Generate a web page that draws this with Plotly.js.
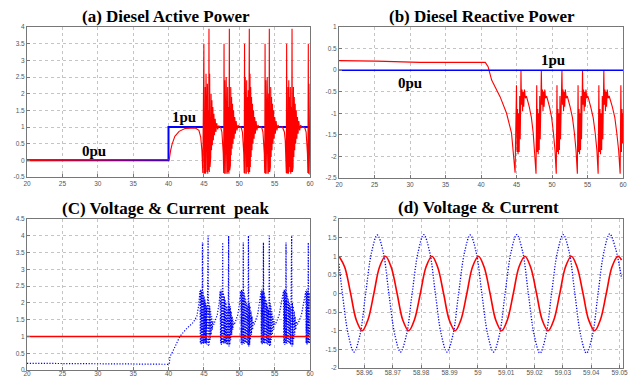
<!DOCTYPE html>
<html><head><meta charset="utf-8">
<script src="https://cdn.plot.ly/plotly-3.0.1.min.js"></script>
<style>html,body{margin:0;padding:0;background:#fff}#chart{width:630px;height:378px}</style>
</head><body><div id="chart"></div>
<script>
// ---------- (a) Diesel Active Power ----------
const aRefTime = [20, 40, 40, 60];
const aRefPower = [0, 0, 1, 1];
const aTime = [20,40,40.1,40.3,40.5,40.9,41.5,42.4,43.8,44.3,44.55,44.72,44.85,
45.0,45.05,45.1,45.15,45.2,45.25,45.3,45.35,45.4,45.45,45.5,45.55,45.62,45.67,45.72,45.77,45.82,45.87,45.92,45.97,46.02,46.08,46.14,46.2,46.27,46.34,46.42,46.5,46.6,46.7,46.82,46.95,47.1,47.3,
47.4,47.55,47.66,47.74,47.8,
47.85,47.9,47.95,48.0,48.05,48.1,48.15,48.2,48.25,48.3,48.36,48.42,48.48,48.54,48.6,48.65,48.7,48.75,48.8,48.86,48.92,48.98,49.05,49.12,49.2,49.28,49.37,49.46,49.56,49.68,49.82,50.0,50.2,
50.3,50.45,50.56,50.64,50.7,
50.75,50.8,50.85,50.9,50.95,51.0,51.05,51.1,51.16,51.22,51.28,51.33,51.37,51.42,51.47,51.52,51.57,51.62,51.68,51.74,51.8,51.87,51.94,52.02,52.1,52.19,52.28,52.38,52.5,52.64,52.8,53.1,
53.2,53.35,53.46,53.54,53.6,
53.65,53.7,53.75,53.8,53.85,53.9,53.95,54.0,54.05,54.1,54.15,54.2,54.25,54.3,54.35,54.4,54.45,54.51,54.57,54.63,54.7,54.77,54.85,54.93,55.02,55.11,55.21,55.33,55.47,55.65,56.1,
56.2,56.38,56.5,56.6,56.65,
56.7,56.75,56.8,56.85,56.9,56.95,57.0,57.05,57.1,57.16,57.22,57.28,57.34,57.4,57.46,57.51,57.56,57.61,57.66,57.72,57.78,57.84,57.91,57.98,58.06,58.14,58.23,58.32,58.42,58.54,58.68,58.85,59.1,
59.3,59.45,59.56,59.64,59.7,
59.76,59.8,59.85,59.9,59.95,60.0];
const aPower = [0,0,0.02,0.3,0.48,0.72,0.87,0.96,0.97,0.9,0.7,0.3,-0.38,
3.5,-0.4,2.5,-0.3,2.2,-0.4,2.6,-0.2,1.9,-0.35,2.3,-0.4,1.5,-0.3,3.95,-0.35,2.6,-0.2,2.2,0.1,2.0,0.3,1.8,0.45,1.6,0.6,1.4,0.75,1.25,0.85,1.12,0.93,1.04,0.99,
0.97,0.85,0.6,0.2,-0.38,
3.5,-0.4,2.4,-0.3,2.1,-0.4,2.5,-0.25,1.8,-0.4,2.2,-0.35,1.6,-0.4,3.95,-0.3,2.6,-0.15,2.2,0.15,1.9,0.35,1.7,0.5,1.5,0.65,1.3,0.8,1.18,0.9,1.06,0.98,1.0,
0.96,0.85,0.6,0.2,-0.38,
3.5,-0.4,2.5,-0.3,2.2,-0.4,2.4,-0.2,1.9,-0.35,2.1,-0.4,1.5,3.95,-0.35,2.6,-0.2,2.2,0.1,1.9,0.3,1.7,0.5,1.5,0.65,1.3,0.8,1.18,0.9,1.06,0.98,1.0,
0.96,0.85,0.6,0.2,-0.38,
3.5,-0.4,2.4,-0.3,2.2,-0.4,2.5,-0.25,1.8,-0.4,2.0,-0.35,3.95,-0.35,2.6,-0.2,2.2,0.1,1.9,0.3,1.7,0.5,1.5,0.65,1.3,0.8,1.18,0.9,1.06,0.98,1.0,
0.96,0.85,0.6,0.2,-0.38,
3.5,-0.4,2.5,-0.3,2.2,-0.4,2.4,-0.2,1.9,-0.35,2.2,-0.4,1.6,-0.35,3.95,-0.35,2.6,-0.2,2.2,0.1,1.9,0.3,1.7,0.5,1.5,0.65,1.3,0.8,1.18,0.9,1.06,0.98,1.0,
0.96,0.85,0.6,0.2,-0.38,
3.5,-0.4,2.3,-0.3,1.5,-0.43];

// ---------- (b) Diesel Reactive Power ----------
const bRefTime = [20, 60];
const bRefPower = [0, 0];
const bTime = [20,25.3,31.4,40.6,41.0,41.5,42.7,43.6,44.3,44.6,44.8,
45.0,45.08,45.15,45.22,45.3,45.38,45.45,45.52,45.58,45.63,45.7,45.78,45.86,45.94,46.02,46.12,46.25,46.4,46.8,47.1,47.35,47.55,47.75,
47.85,47.92,47.99,48.06,48.13,48.2,48.27,48.34,48.42,48.5,48.57,48.65,48.73,48.81,48.89,48.98,49.1,49.25,49.65,49.95,50.2,50.42,50.6,
50.7,50.77,50.84,50.91,50.98,51.05,51.12,51.2,51.3,51.4,51.47,51.55,51.63,51.71,51.79,51.88,52.0,52.15,52.55,52.88,53.15,53.38,53.57,
53.67,53.74,53.81,53.88,53.95,54.02,54.09,54.16,54.23,54.3,54.37,54.45,54.53,54.61,54.69,54.78,54.9,55.05,55.45,55.8,56.08,56.32,56.5,
56.6,56.68,56.76,56.84,56.92,57.0,57.08,57.16,57.24,57.3,57.37,57.45,57.53,57.61,57.69,57.78,57.9,58.05,58.5,58.85,59.12,59.38,59.6,
59.7,59.78,59.86,59.93,60.0];
const bPower = [0.22,0.21,0.18,0.18,0.08,-0.23,-0.62,-1.0,-1.46,-1.92,-2.38,
-0.35,-1.9,-0.9,-1.95,-1.0,-1.9,-0.6,-1.6,-0.9,0.0,-0.8,-0.45,-0.95,-0.5,-0.85,-0.45,-0.65,-0.6,-0.85,-1.1,-1.45,-1.85,-2.4,
-0.35,-1.9,-0.9,-1.95,-1.0,-1.85,-0.6,-1.6,-0.9,0.0,-0.8,-0.45,-0.95,-0.5,-0.85,-0.45,-0.65,-0.6,-0.85,-1.1,-1.45,-1.85,-2.4,
-0.35,-1.9,-0.9,-1.95,-1.0,-1.85,-0.6,-1.6,-0.9,0.0,-0.8,-0.45,-0.95,-0.5,-0.85,-0.45,-0.65,-0.6,-0.85,-1.1,-1.45,-1.85,-2.4,
-0.35,-1.9,-0.9,-1.95,-1.0,-1.85,-0.6,-1.6,-0.9,0.0,-0.8,-0.45,-0.95,-0.5,-0.85,-0.45,-0.65,-0.6,-0.85,-1.1,-1.45,-1.85,-2.4,
-0.35,-1.9,-0.9,-1.95,-1.0,-1.85,-0.6,-1.6,-0.9,0.0,-0.8,-0.45,-0.95,-0.5,-0.85,-0.45,-0.65,-0.6,-0.85,-1.1,-1.45,-1.85,-2.4,
-0.35,-1.9,-0.9,-1.7,-1.0];

// ---------- (C) Voltage & Current peak ----------
const cRefTime = [20, 60];
const cRefPeak = [1, 1];
const cTime = [20,27,27.1,34.5,40.1,40.2,40.6,41.0,41.6,42.5,43.5,44.0,44.25,44.45,
44.5,44.56,44.62,44.68,44.74,44.8,44.85,44.91,44.97,45.03,45.09,45.15,45.21,45.27,45.33,45.39,45.45,45.51,45.6,45.65,45.71,45.77,45.83,45.89,45.96,46.03,46.1,46.18,46.27,46.4,46.6,46.9,47.15,47.31,
47.36,47.42,47.48,47.54,47.6,47.66,47.71,47.77,47.83,47.89,47.95,48.01,48.07,48.13,48.19,48.25,48.31,48.37,48.43,48.5,48.55,48.61,48.67,48.73,48.79,48.86,48.93,49.0,49.08,49.17,49.3,49.5,49.8,50.05,50.22,
50.27,50.33,50.39,50.45,50.51,50.57,50.62,50.68,50.74,50.8,50.86,50.92,50.98,51.04,51.1,51.16,51.22,51.3,51.35,51.41,51.47,51.53,51.59,51.66,51.73,51.8,51.88,51.97,52.1,52.3,52.6,52.85,53.07,
53.12,53.18,53.24,53.3,53.36,53.42,53.47,53.53,53.59,53.65,53.71,53.77,53.83,53.89,53.95,54.01,54.07,54.13,54.19,54.25,54.3,54.36,54.42,54.48,54.54,54.61,54.68,54.75,54.83,54.92,55.05,55.3,55.65,55.95,56.26,
56.31,56.37,56.43,56.49,56.55,56.61,56.66,56.72,56.78,56.84,56.9,56.96,57.02,57.08,57.14,57.2,57.26,57.32,57.41,57.46,57.52,57.58,57.64,57.7,57.77,57.84,57.91,57.99,58.08,58.2,58.45,58.8,59.1,59.41,
59.46,59.52,59.58,59.64,59.7,59.76,59.81,59.87,59.93,60.0];
const cPeak = [0.2,0.2,0.19,0.18,0.17,0.4,0.55,0.72,1.0,1.22,1.42,1.6,1.9,2.35,
0.8,2.4,0.75,2.35,0.8,3.8,0.8,2.3,0.78,2.2,0.82,2.1,0.8,2.0,0.78,1.9,0.75,1.8,4.0,0.7,2.0,0.75,1.9,0.9,1.75,1.05,1.6,1.2,1.45,1.35,1.45,1.65,2.0,2.35,
0.8,2.4,0.75,2.35,0.8,3.8,0.8,2.3,0.78,2.2,0.82,2.1,0.8,2.0,0.78,1.9,0.75,1.8,0.8,4.0,0.7,2.0,0.75,1.9,0.9,1.75,1.05,1.6,1.2,1.45,1.35,1.45,1.65,2.0,2.35,
0.8,2.4,0.75,2.35,0.8,3.8,0.8,2.3,0.78,2.2,0.82,2.1,0.8,2.0,0.78,1.9,0.75,4.0,0.7,2.0,0.75,1.9,0.9,1.75,1.05,1.6,1.2,1.45,1.35,1.45,1.65,2.0,2.35,
0.8,2.4,0.75,2.35,0.8,3.8,0.8,2.3,0.78,2.2,0.82,2.1,0.8,2.0,0.78,1.9,0.75,1.8,0.8,4.0,0.7,2.0,0.75,1.9,0.9,1.75,1.05,1.6,1.2,1.45,1.35,1.45,1.65,2.0,2.35,
0.8,2.4,0.75,2.35,0.8,3.8,0.8,2.3,0.78,2.2,0.82,2.1,0.8,2.0,0.78,1.9,0.75,1.8,4.0,0.7,2.0,0.75,1.9,0.9,1.75,1.05,1.6,1.2,1.45,1.35,1.45,1.65,2.0,2.35,
0.8,2.4,0.75,2.35,0.8,3.8,0.8,2.3,0.78,1.5];

// ---------- (d) Voltage & Current ----------
const dTimeV = [58.9510,58.9530,58.9551,58.9571,58.9592,58.9612,58.9633,58.9653,
58.9674,58.9694,58.9715,58.9735,58.9756,58.9776,58.9797,58.9817,
58.9838,58.9858,58.9879,58.9899,58.9920,58.9940,58.9961,58.9981,
59.0002,59.0022,59.0043,59.0063,59.0084,59.0104,59.0125,59.0145,
59.0166,59.0186,59.0207,59.0227,59.0248,59.0268,59.0289,59.0309,
59.0330,59.0350,59.0371,59.0391,59.0412,59.0432,59.0453,59.0473,
59.0494,59.0507];
const dVolt = [1,0.71,0,-0.71,-1,-0.71,0,0.71,
1,0.71,0,-0.71,-1,-0.71,0,0.71,
1,0.71,0,-0.71,-1,-0.71,0,0.71,
1,0.71,0,-0.71,-1,-0.71,0,0.71,
1,0.71,0,-0.71,-1,-0.71,0,0.71,
1,0.71,0,-0.71,-1,-0.71,0,0.71,
1,0.9];
const dTimeI = [58.9510,58.9522,58.9543,58.9563,58.9584,58.9604,58.9625,58.9645,58.9666,
58.9686,58.9707,58.9727,58.9748,58.9768,58.9789,58.9809,58.9830,
58.9850,58.9871,58.9891,58.9912,58.9932,58.9953,58.9973,58.9994,
59.0014,59.0035,59.0055,59.0076,59.0096,59.0117,59.0137,59.0158,
59.0178,59.0199,59.0219,59.0240,59.0260,59.0281,59.0301,59.0322,
59.0342,59.0363,59.0383,59.0404,59.0424,59.0445,59.0465,59.0486,59.0507];
const dCurr = [0.8,0,-1.11,-1.57,-1.11,0,1.11,1.57,1.11,
0,-1.11,-1.57,-1.11,0,1.11,1.58,1.11,
0,-1.11,-1.57,-1.11,0,1.11,1.57,1.11,
0,-1.11,-1.57,-1.11,0,1.11,1.58,1.12,
0,-1.13,-1.6,-1.13,0,1.12,1.58,1.12,
0,-1.13,-1.6,-1.13,0,1.13,1.6,1.2,0.4];

// ---------- tick labels ----------
const xTicksTime = [20,25,30,35,40,45,50,55,60];
const yTicksA = [-0.5,0,0.5,1,1.5,2,2.5,3,3.5,4];
const yTicksB = [-2.5,-2,-1.5,-1,-0.5,0,0.5,1];
const yTicksC = [0,0.5,1,1.5,2,2.5,3,3.5,4,4.5];
const yTicksD = [-2,-1.5,-1,-0.5,0,0.5,1,1.5,2];
const xTicksD = [58.96,58.97,58.98,58.99,59,59.01,59.02,59.03,59.04,59.05];
const xTickTextD = ['58.96','58.97','58.98','58.99','59','59.01','59.02','59.03','59.04','59.05'];

const titles = ['(a) Diesel Active Power','(b) Diesel Reactive Power','(C) Voltage &amp; Current \u00a0peak','(d) Voltage &amp; Current'];

const RED = '#ff0000', BLUE = '#0000ff';
const DOT = '1.2px,1.6px';
const traces = [
  {x:aRefTime, y:aRefPower, xaxis:'x', yaxis:'y', mode:'lines', line:{color:BLUE, width:2}},
  {x:aTime, y:aPower, xaxis:'x', yaxis:'y', mode:'lines', line:{color:RED, width:1.1}},
  {x:bTime, y:bPower, xaxis:'x2', yaxis:'y2', mode:'lines', line:{color:RED, width:1.1}},
  {x:bRefTime, y:bRefPower, xaxis:'x2', yaxis:'y2', mode:'lines', line:{color:BLUE, width:1.5}},
  {x:cTime, y:cPeak, xaxis:'x3', yaxis:'y3', mode:'lines', line:{color:BLUE, width:1.2, dash:DOT}},
  {x:cRefTime, y:cRefPeak, xaxis:'x3', yaxis:'y3', mode:'lines', line:{color:RED, width:1.5}},
  {x:dTimeI, y:dCurr, xaxis:'x4', yaxis:'y4', mode:'lines', line:{color:BLUE, width:1.3, dash:DOT, shape:'spline', smoothing:1}},
  {x:dTimeV, y:dVolt, xaxis:'x4', yaxis:'y4', mode:'lines', line:{color:RED, width:1.6, shape:'spline', smoothing:1}}
];

function ax(domain, range, vals, text, anchor, standoff) {
  return {domain:domain, range:range, anchor:anchor, tickmode:'array', tickvals:vals,
    ticktext: text || vals.map(String), showgrid:true, gridcolor:'#c4c4c4', griddash:'dot', gridwidth:1,
    zeroline:false, showline:true, mirror:true, linecolor:'#777', linewidth:1,
    ticks:'inside', ticklen:3, tickcolor:'#777', ticklabelstandoff: standoff || 0,
    tickfont:{family:'Liberation Sans, Arial, sans-serif', size:6.5, color:'#555'}};
}
const XL = [27/630, 310/630], XR = [339/630, 623/630];
const layout = {
  width:630, height:378, margin:{l:0, r:0, t:0, b:0}, showlegend:false,
  paper_bgcolor:'#fff', plot_bgcolor:'#fff',
  xaxis: ax(XL, [20,60], xTicksTime, null, 'y'),
  yaxis: ax([1-177/378, 1-27/378], [-0.5,4], yTicksA, null, 'x'),
  xaxis2: ax(XR, [20,60], xTicksTime, null, 'y2'),
  yaxis2: ax([1-178/378, 1-27/378], [-2.5,1], yTicksB, null, 'x2'),
  xaxis3: ax(XL, [20,60], xTicksTime, null, 'y3', -3),
  yaxis3: ax([1-370/378, 1-219/378], [0,4.5], yTicksC, null, 'x3'),
  xaxis4: ax(XR, [58.951,59.0512], xTicksD, xTickTextD, 'y4', -2),
  yaxis4: ax([1-368/378, 1-219/378], [-2,2], yTicksD, null, 'x4'),
  annotations: [
    {text:'<b>'+titles[0]+'</b>', xref:'paper', yref:'paper', x:166/630, y:1-16/378},
    {text:'<b>'+titles[1]+'</b>', xref:'paper', yref:'paper', x:482/630, y:1-16/378},
    {text:'<b>'+titles[2]+'</b>', xref:'paper', yref:'paper', x:166/630, y:1-208/378},
    {text:'<b>'+titles[3]+'</b>', xref:'paper', yref:'paper', x:478/630, y:1-207/378},
    {text:'<b>0pu</b>', xref:'x', yref:'y', x:29.5, y:0.28, fs:15},
    {text:'<b>1pu</b>', xref:'x', yref:'y', x:42.2, y:1.3, fs:15},
    {text:'<b>0pu</b>', xref:'x2', yref:'y2', x:30, y:-0.3, fs:15},
    {text:'<b>1pu</b>', xref:'x2', yref:'y2', x:50.1, y:0.235, fs:15}
  ].map(a => ({text:a.text, xref:a.xref, yref:a.yref, x:a.x, y:a.y, showarrow:false,
      xanchor:'center', yanchor:'middle',
      font:{family:'Liberation Serif, Times New Roman, serif', size:a.fs || 17, color:'#000'}}))
};
Plotly.newPlot('chart', traces, layout, {staticPlot:true, displayModeBar:false});
</script></body></html>
